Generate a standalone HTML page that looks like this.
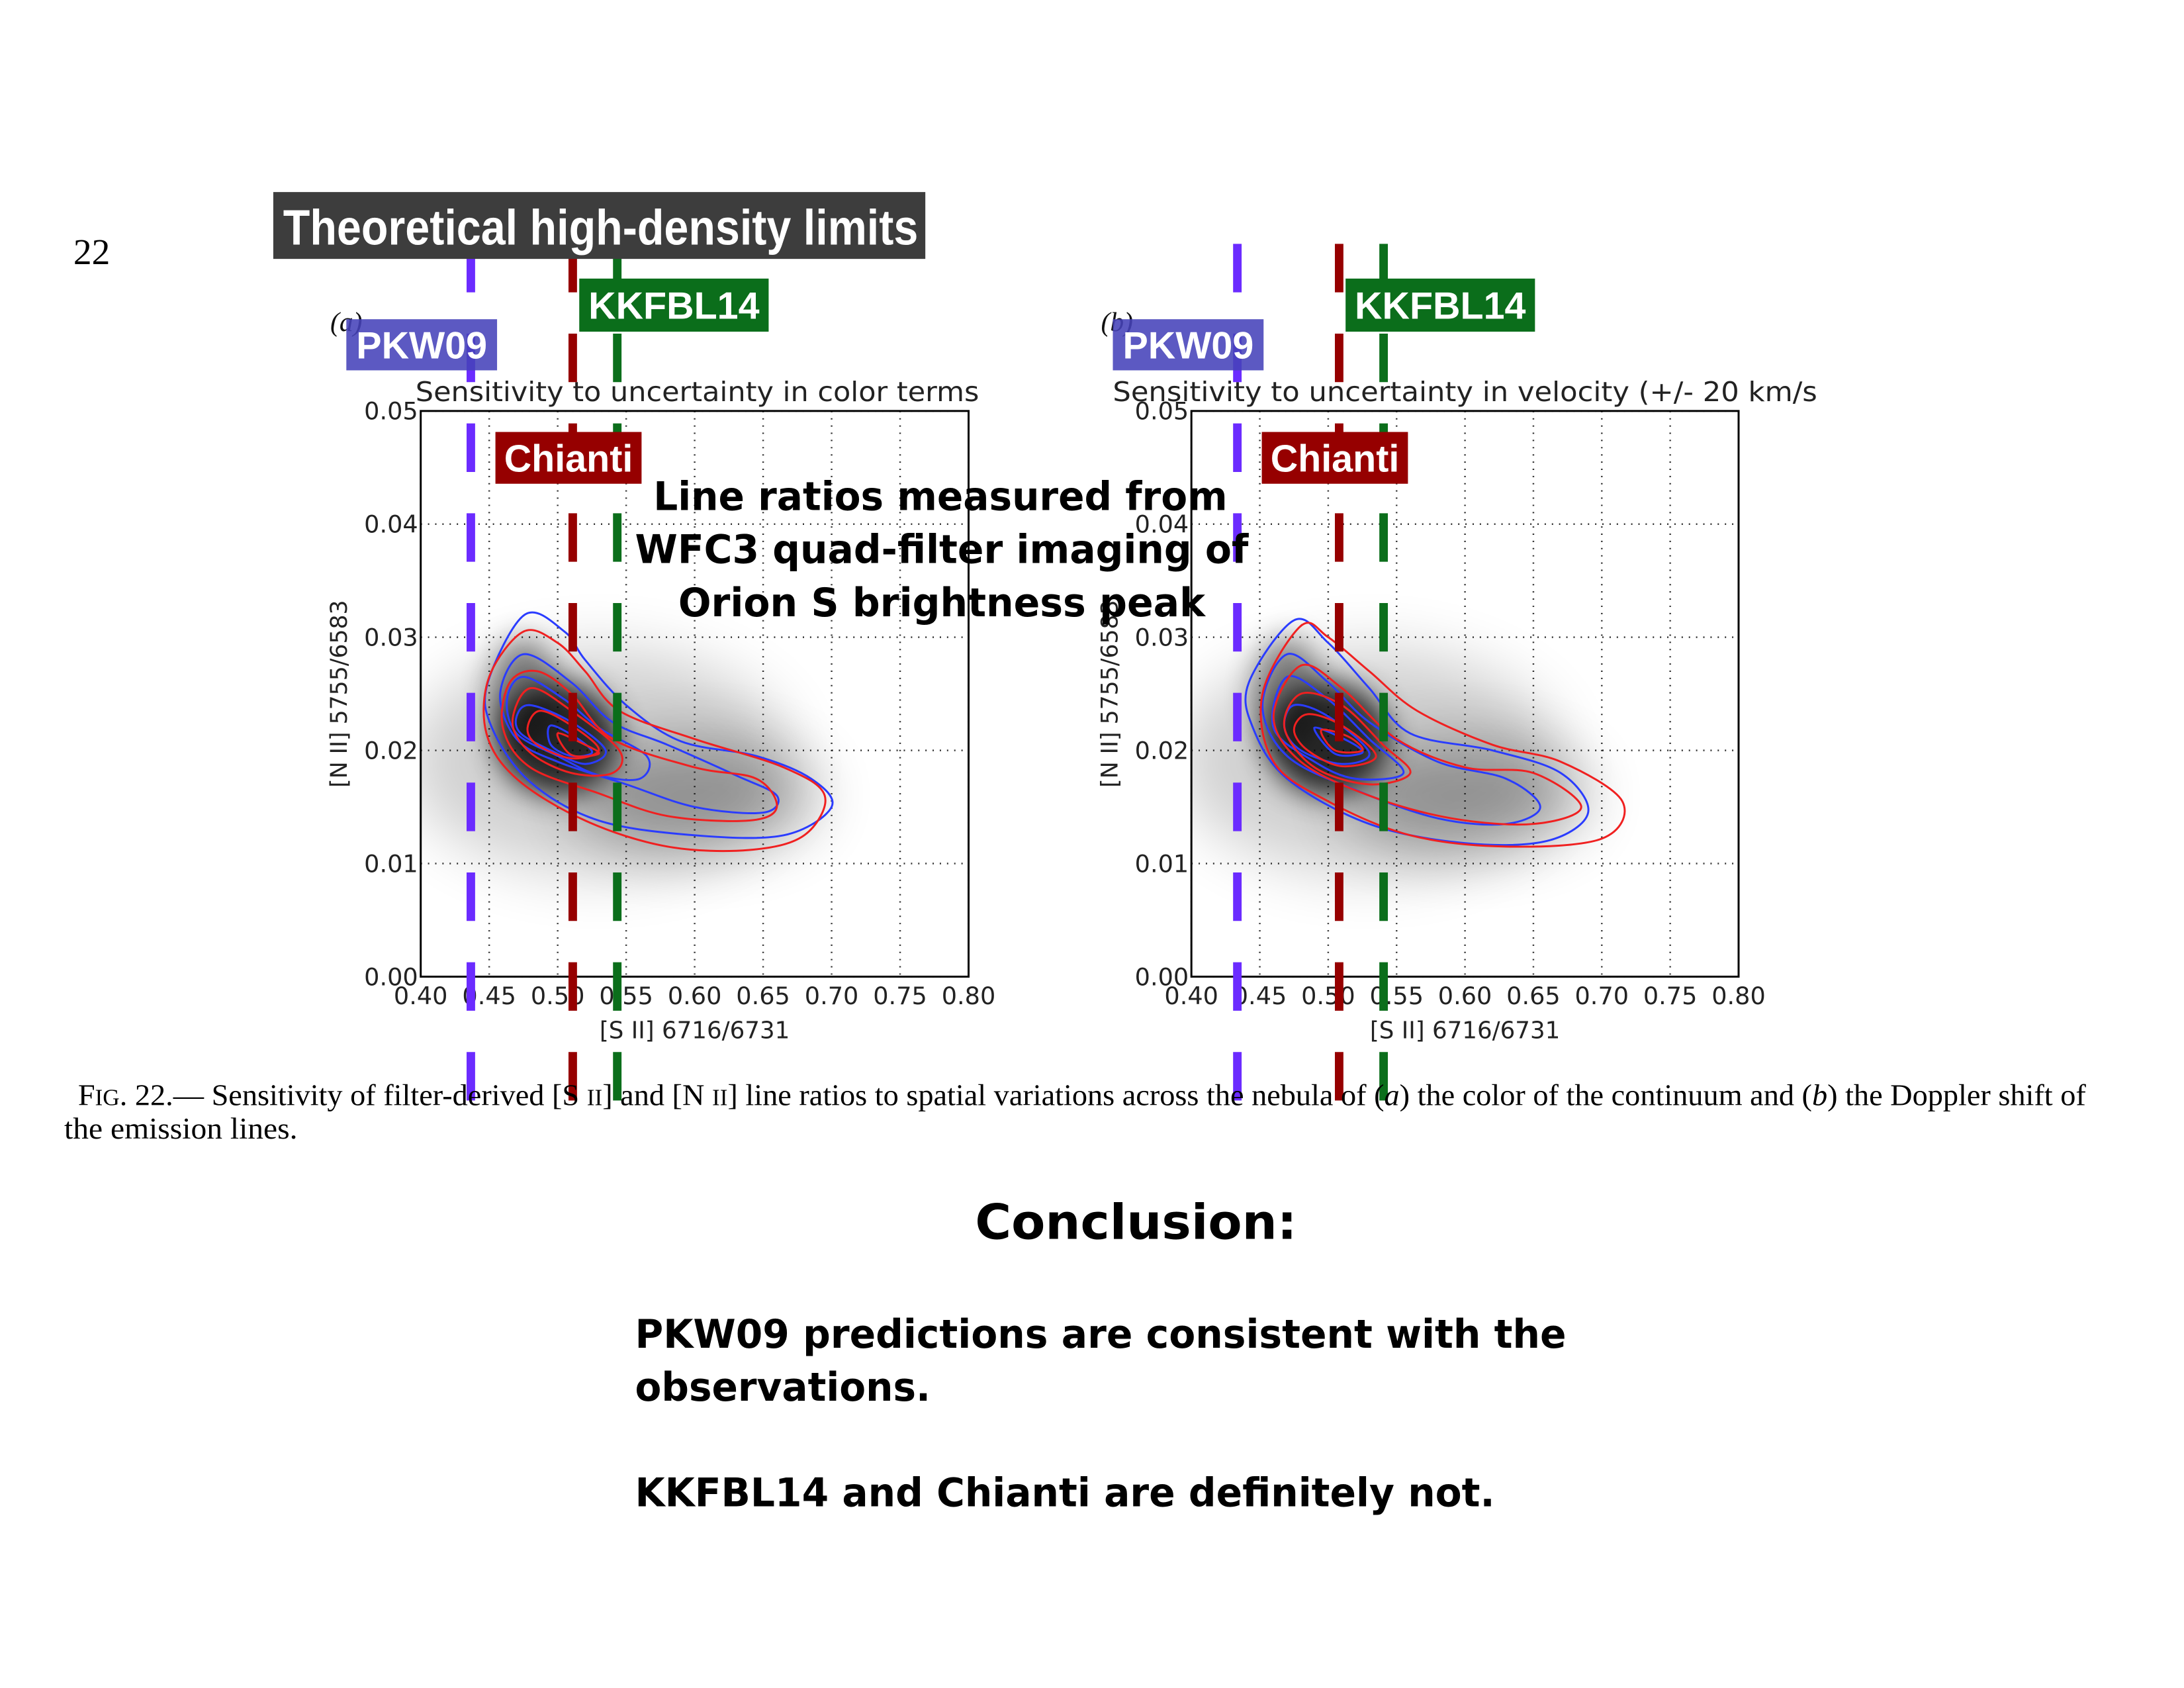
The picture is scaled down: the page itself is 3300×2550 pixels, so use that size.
<!DOCTYPE html>
<html><head><meta charset="utf-8"><style>
html,body{margin:0;padding:0;background:#fff;}
svg{display:block;}
</style></head><body>
<svg id="page" xmlns="http://www.w3.org/2000/svg" width="3300" height="2550" viewBox="0 0 3300 2550">
<defs>
<filter id="blur" x="-50%" y="-50%" width="200%" height="200%"><feGaussianBlur stdDeviation="45"/></filter>
<filter id="blur2" x="-50%" y="-50%" width="200%" height="200%"><feGaussianBlur stdDeviation="22"/></filter>
<clipPath id="clipA"><rect x="642" y="627" width="836" height="863"/></clipPath>
<clipPath id="clipB"><rect x="1818" y="627" width="835" height="863"/></clipPath>
</defs>
<g id="root" transform="scale(0.9902)">
<text x="112" y="403" font-family="Liberation Serif, serif" font-size="56">22</text>
<g id="plots"></g>
<g id="limits"></g>
<g id="labels"></g>
<text x="119" y="1686" font-family="Liberation Serif, serif" font-size="46" textLength="3064" lengthAdjust="spacingAndGlyphs">F<tspan font-size="35">IG</tspan>. 22.— Sensitivity of filter-derived [S <tspan font-size="35">II</tspan>] and [N <tspan font-size="35">II</tspan>] line ratios to spatial variations across the nebula of (<tspan font-style="italic">a</tspan>) the color of the continuum and (<tspan font-style="italic">b</tspan>) the Doppler shift of</text>
<text x="98" y="1737" font-family="Liberation Serif, serif" font-size="46" textLength="356" lengthAdjust="spacingAndGlyphs">the emission lines.</text>
<g font-family="DejaVu Sans, sans-serif" font-weight="bold" font-size="60" fill="#000">
<text x="997" y="778" textLength="876" lengthAdjust="spacingAndGlyphs">Line ratios measured from</text>
<text x="969" y="859" textLength="936" lengthAdjust="spacingAndGlyphs">WFC3 quad-filter imaging of</text>
<text x="1035" y="940" textLength="804" lengthAdjust="spacingAndGlyphs">Orion S brightness peak</text>
</g>
<g font-family="DejaVu Sans, sans-serif" font-weight="bold" fill="#000">
<text x="1488" y="1890" font-size="74" textLength="491" lengthAdjust="spacingAndGlyphs">Conclusion:</text>
<text x="969" y="2056" font-size="60" textLength="1421" lengthAdjust="spacingAndGlyphs">PKW09 predictions are consistent with the</text>
<text x="969" y="2137" font-size="60" textLength="451" lengthAdjust="spacingAndGlyphs">observations.</text>
<text x="969" y="2298" font-size="60" textLength="1312" lengthAdjust="spacingAndGlyphs">KKFBL14 and Chianti are definitely not.</text>
</g>
</g>
</svg>
<script>
// ---- data ----
const xTicks = [0.40,0.45,0.50,0.55,0.60,0.65,0.70,0.75,0.80];
const yTicks = [0.00,0.01,0.02,0.03,0.04,0.05];
const xTickLabels = ["0.40","0.45","0.50","0.55","0.60","0.65","0.70","0.75","0.80"];
const yTickLabels = ["0.00","0.01","0.02","0.03","0.04","0.05"];
const limitNames = ["PKW09","Chianti","KKFBL14"];
const limitValuesA = [0.4366,0.511,0.5435];
const limitValuesB = [0.4336,0.508,0.5405];
// density blobs: [x, y, rx(data), ry(data), opacity]
const densityA = [[0.53,0.019,0.14,0.010,0.18],[0.60,0.016,0.09,0.005,0.3],[0.50,0.021,0.045,0.005,0.8],[0.475,0.025,0.025,0.005,0.45]];
const densityB = [[0.53,0.019,0.14,0.010,0.18],[0.60,0.016,0.09,0.005,0.3],[0.50,0.021,0.045,0.005,0.8],[0.47,0.025,0.025,0.005,0.45]];
const blueA = [
 [[0.476,0.032],[0.505,0.0305],[0.52,0.028],[0.55,0.024],[0.59,0.0208],[0.645,0.0195],[0.685,0.0175],[0.70,0.015],[0.665,0.0125],[0.60,0.0125],[0.53,0.0138],[0.48,0.0172],[0.452,0.022],[0.449,0.026]],
 [[0.475,0.0285],[0.51,0.026],[0.54,0.0225],[0.58,0.0205],[0.63,0.0178],[0.66,0.016],[0.65,0.0145],[0.60,0.015],[0.55,0.017],[0.50,0.019],[0.47,0.021],[0.458,0.025]],
 [[0.475,0.0265],[0.505,0.0245],[0.53,0.022],[0.565,0.0195],[0.56,0.0175],[0.53,0.0178],[0.50,0.0195],[0.47,0.0215],[0.463,0.0245]],
 [[0.48,0.024],[0.51,0.0225],[0.535,0.020],[0.52,0.0188],[0.495,0.020],[0.473,0.0215],[0.47,0.023]],
 [[0.495,0.0222],[0.515,0.021],[0.525,0.0198],[0.51,0.0195],[0.495,0.0205]]
];
const redA = [
 [[0.475,0.0305],[0.50,0.0295],[0.52,0.027],[0.545,0.0235],[0.60,0.021],[0.665,0.0185],[0.695,0.016],[0.68,0.0125],[0.64,0.0112],[0.58,0.0115],[0.52,0.0138],[0.47,0.0175],[0.448,0.0215],[0.45,0.0265]],
 [[0.485,0.027],[0.51,0.025],[0.54,0.021],[0.60,0.0185],[0.645,0.0175],[0.66,0.015],[0.64,0.0138],[0.58,0.0142],[0.53,0.0162],[0.48,0.0185],[0.46,0.022],[0.465,0.026]],
 [[0.48,0.0255],[0.51,0.0235],[0.545,0.020],[0.54,0.018],[0.51,0.018],[0.48,0.0198],[0.467,0.0225]],
 [[0.488,0.0235],[0.515,0.0218],[0.53,0.020],[0.51,0.0193],[0.485,0.0205],[0.478,0.022]],
 [[0.50,0.0215],[0.52,0.0205],[0.53,0.0197],[0.51,0.0196]]
];
const blueB = [
 [[0.475,0.0315],[0.50,0.0295],[0.53,0.0255],[0.56,0.0215],[0.62,0.020],[0.67,0.018],[0.69,0.0145],[0.66,0.012],[0.60,0.0118],[0.53,0.0135],[0.47,0.0175],[0.445,0.022],[0.442,0.026]],
 [[0.47,0.0285],[0.50,0.026],[0.53,0.0225],[0.58,0.019],[0.63,0.0175],[0.655,0.015],[0.63,0.0135],[0.58,0.014],[0.52,0.0165],[0.47,0.0195],[0.452,0.024]],
 [[0.47,0.0265],[0.50,0.0245],[0.53,0.021],[0.555,0.018],[0.52,0.0175],[0.49,0.019],[0.46,0.022]],
 [[0.475,0.024],[0.50,0.023],[0.53,0.0198],[0.51,0.0188],[0.48,0.020],[0.468,0.022]],
 [[0.49,0.022],[0.515,0.0208],[0.525,0.0198],[0.505,0.0197]]
];
const redB = [
 [[0.48,0.031],[0.50,0.030],[0.53,0.027],[0.565,0.0235],[0.62,0.0205],[0.67,0.019],[0.715,0.0155],[0.70,0.0122],[0.63,0.0115],[0.56,0.0125],[0.50,0.0155],[0.46,0.019],[0.452,0.025]],
 [[0.48,0.0275],[0.51,0.0255],[0.55,0.021],[0.60,0.0185],[0.65,0.018],[0.685,0.015],[0.65,0.0135],[0.59,0.014],[0.53,0.016],[0.48,0.019],[0.46,0.023]],
 [[0.48,0.025],[0.51,0.024],[0.54,0.0205],[0.56,0.018],[0.53,0.017],[0.49,0.0185],[0.468,0.022]],
 [[0.485,0.0232],[0.51,0.0222],[0.535,0.0195],[0.51,0.0186],[0.485,0.020],[0.475,0.0218]],
 [[0.495,0.0218],[0.515,0.0212],[0.525,0.0200],[0.505,0.0200]]
];
// ---- rendering ----
const NS="http://www.w3.org/2000/svg";
function mk(tag,attrs,parent){const e=document.createElementNS(NS,tag);for(const k in attrs)e.setAttribute(k,attrs[k]);if(parent)parent.appendChild(e);return e;}
const panels=[
 {id:"a",x0:642,x1:1478,y0:627,y1:1490,clip:"clipA",title:"Sensitivity to uncertainty in color terms",tOff:-8,tLen:860,tag:"(a)",dens:densityA,blue:blueA,red:redA,lim:limitValuesA},
 {id:"b",x0:1818,x1:2653,y0:627,y1:1490,clip:"clipB",title:"Sensitivity to uncertainty in velocity (+/- 20 km/s",tOff:-120,tLen:1075,tag:"(b)",dens:densityB,blue:blueB,red:redB,lim:limitValuesB}
];
function smooth(pts){
 const n=pts.length;let d="M"+pts[0][0]+","+pts[0][1];
 for(let i=0;i<n;i++){const p0=pts[(i-1+n)%n],p1=pts[i],p2=pts[(i+1)%n],p3=pts[(i+2)%n];
  const c1=[p1[0]+(p2[0]-p0[0])/6,p1[1]+(p2[1]-p0[1])/6],c2=[p2[0]-(p3[0]-p1[0])/6,p2[1]-(p3[1]-p1[1])/6];
  d+="C"+c1[0].toFixed(1)+","+c1[1].toFixed(1)+" "+c2[0].toFixed(1)+","+c2[1].toFixed(1)+" "+p2[0].toFixed(1)+","+p2[1].toFixed(1);}
 return d+"Z";}
const plots=document.getElementById("plots"),limG=document.getElementById("limits"),labG=document.getElementById("labels");
const limColors=["#6b2bff","#960000","#0b6e1b"];
panels.forEach(P=>{
 const sx=v=>P.x0+(v-0.4)/0.4*(P.x1-P.x0);
 const sy=v=>P.y1-v/0.05*(P.y1-P.y0);
 const g=mk("g",{},plots);
 
 
 const dg=mk("g",{"clip-path":"url(#"+P.clip+")"},g);
 P.dens.forEach((b,i)=>{const e=mk("ellipse",{cx:sx(b[0]),cy:sy(b[1]),rx:b[2]/0.4*(P.x1-P.x0),ry:b[3]/0.05*(P.y1-P.y0),fill:"#000",opacity:b[4],filter:i<2?"url(#blur)":"url(#blur2)"},dg);
  
  });
 xTicks.forEach((t,i)=>{
  const l=mk("line",{x1:sx(t),x2:sx(t),y1:P.y0,y2:P.y1,stroke:"#000","stroke-width":2.5,"stroke-dasharray":"2 9",opacity:0.8},g);
  
  
  const tx=mk("text",{x:sx(t),y:P.y1+42,"text-anchor":"middle","font-family":"DejaVu Sans, sans-serif","font-size":37,fill:"#222"},g);
  tx.textContent=xTickLabels[i];
  
  
 });
 yTicks.forEach((t,i)=>{
  const l=mk("line",{x1:P.x0,x2:P.x1,y1:sy(t),y2:sy(t),stroke:"#000","stroke-width":2.5,"stroke-dasharray":"2 9",opacity:0.8},g);
  
  
  const tx=mk("text",{x:P.x0-4,y:sy(t)+13,"text-anchor":"end","font-family":"DejaVu Sans, sans-serif","font-size":37,fill:"#222"},g);
  tx.textContent=yTickLabels[i];
  
  
 });
 const cg=mk("g",{"clip-path":"url(#"+P.clip+")",fill:"none","stroke-width":3},g);
 P.blue.forEach(c=>{const p=mk("path",{d:smooth(c.map(q=>[sx(q[0]),sy(q[1])])),stroke:"#2a3cff"},cg);
  
  });
 P.red.forEach(c=>{const p=mk("path",{d:smooth(c.map(q=>[sx(q[0]),sy(q[1])])),stroke:"#f02020"},cg);
  
  });
 const fr=mk("rect",{x:P.x0,y:P.y0,width:P.x1-P.x0,height:P.y1-P.y0,fill:"none",stroke:"#000","stroke-width":3},g);
 
 
 const ti=mk("text",{x:P.x0+P.tOff,y:612,"font-family":"DejaVu Sans, sans-serif","font-size":41,fill:"#222",textLength:P.tLen,lengthAdjust:"spacingAndGlyphs"},g);
 ti.textContent=P.title;
 
 
 const tg=mk("text",{x:P.x0-138,y:505,"font-family":"Liberation Serif, serif","font-style":"italic","font-size":42,fill:"#111"},g);
 tg.textContent=P.tag;
 
 
 const xl=mk("text",{x:(P.x0+P.x1)/2,y:1584,"text-anchor":"middle","font-family":"DejaVu Sans, sans-serif","font-size":36,fill:"#222"},g);
 xl.textContent="[S II] 6716/6731";
 
 
 const yl=mk("text",{x:0,y:0,transform:"translate("+(P.x0-113)+","+((P.y0+P.y1)/2)+") rotate(-90)","text-anchor":"middle","font-family":"DejaVu Sans, sans-serif","font-size":35,fill:"#222"},g);
 yl.textContent="[N II] 5755/6583";
 
 
 P.lim.forEach((v,i)=>{
  const l=mk("line",{x1:sx(v),x2:sx(v),y1:372,y2:1700,stroke:limColors[i],"stroke-width":13,"stroke-dasharray":"74 63"},limG);
  
  
 });
 const boxes=[
  {n:"PKW09",x:sx(P.lim[0])-190,y:487,w:230,h:78,fill:"rgba(70,66,185,0.88)"},
  {n:"KKFBL14",x:sx(P.lim[2])-58,y:425,w:289,h:81,fill:"#0b6e1b"},
  {n:"Chianti",x:sx(P.lim[1])-118,y:659,w:223,h:79,fill:"#960000"}
 ];
 boxes.forEach(b=>{
  const r=mk("rect",{x:b.x,y:b.y,width:b.w,height:b.h,fill:b.fill},labG);
  
  
  const t=mk("text",{x:b.x+b.w/2,y:b.y+b.h/2+21,"text-anchor":"middle","font-family":"Liberation Sans, sans-serif","font-weight":"bold","font-size":58,fill:"#fff"},labG);
  t.textContent=b.n;
  
  
 });
});
const tb=mk("rect",{x:417,y:293,width:995,height:102,fill:"#3d3d3d"},labG);


const tt=mk("text",{x:432,y:373,"font-family":"Liberation Sans Narrow, Liberation Sans, sans-serif","font-weight":"bold","font-size":76,fill:"#fff",textLength:969,lengthAdjust:"spacingAndGlyphs"},labG);
tt.textContent="Theoretical high-density limits";


</script>
</body></html>
